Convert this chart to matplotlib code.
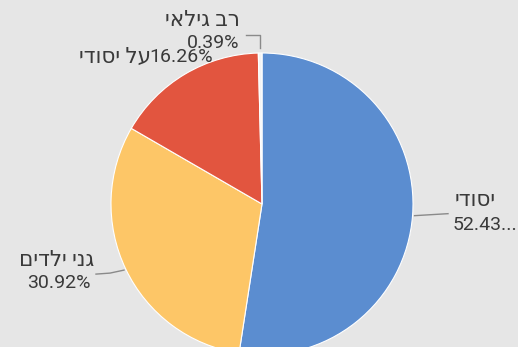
import numpy as np
import matplotlib.pyplot as plt

# school levels and their share of students
labels = ["יסודי", "גני ילדים", "על יסודי", "רב גילאי"]
shares = [52.43, 30.92, 16.26, 0.39]
pct_text = ["52.43...", "30.92%", "16.26%", "0.39%"]
colors = ["#5b8dd0", "#fdc667", "#e2553f", "#f4f4f4"]

BG = "#e6e6e6"
TXT = "#3a3a3a"
LINE = "#8a8a8a"
FONT = ["Roboto", "DejaVu Sans"]


def rtl(s):
    # matplotlib draws glyphs left to right, so hebrew goes in reversed
    return s[::-1]


def main():
    fig = plt.figure(figsize=(5.18, 3.47), dpi=100)
    fig.patch.set_facecolor(BG)
    ax = fig.add_axes([0, 0, 1, 1])
    ax.set_facecolor(BG)

    cx, cy, r = 262, 204, 151
    # y axis runs downward, so -90 is the top and counterclock turns clockwise
    wedges, _ = ax.pie(shares, colors=colors, startangle=-90, counterclock=True,
                       center=(cx, cy), radius=r, frame=True,
                       wedgeprops=dict(edgecolor="white", linewidth=0.8))
    ax.set_xlim(0, 518)
    ax.set_ylim(347, 0)
    ax.set_aspect("equal")
    ax.axis("off")

    def edge(i, dr=2):
        w = wedges[i]
        a = np.deg2rad((w.theta1 + w.theta2) / 2)
        return cx + (r + dr) * np.cos(a), cy + (r + dr) * np.sin(a)

    num = dict(color=TXT, fontsize=14, family=FONT)
    heb = dict(color=TXT, fontsize=15.5, family=FONT)

    # יסודי
    x0, y0 = edge(0)
    ax.plot([x0, 448], [y0, y0 - 2], color=LINE, lw=1)
    ax.text(455, 200, rtl(labels[0]), ha="left", va="center", **heb)
    ax.text(453, 225, pct_text[0], ha="left", va="center", **num)

    # גני ילדים
    x0, y0 = edge(1)
    ax.plot([x0, 110, 96], [y0, y0 + 3, y0 + 4], color=LINE, lw=1)
    ax.text(94, 260, rtl(labels[1]), ha="right", va="center", **heb)
    ax.text(91, 283, pct_text[1], ha="right", va="center", **num)

    # על יסודי
    ax.text(151, 57, rtl(labels[2]), ha="right", va="center", **heb)
    ax.text(149, 57, pct_text[2], ha="left", va="center", **num)

    # רב גילאי
    x0, y0 = edge(3, dr=0)
    ax.plot([246, x0, x0], [35, 35, 48], color=LINE, lw=1)
    ax.text(240, 20, rtl(labels[3]), ha="right", va="center", **heb)
    ax.text(239, 43, pct_text[3], ha="right", va="center", **num)

    fig.savefig("out.png", dpi=100, facecolor=BG)


if __name__ == "__main__":
    main()
